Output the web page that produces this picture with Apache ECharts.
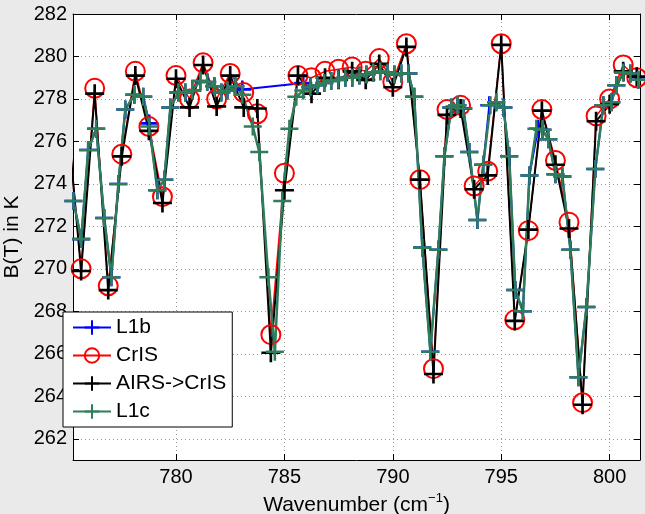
<!DOCTYPE html>
<html>
<head>
<meta charset="utf-8">
<script src="https://cdn.jsdelivr.net/npm/echarts@6/dist/echarts.min.js"></script>
<style>
  html, body { margin: 0; padding: 0; background: #eaeaea; }
  #chart { width: 645px; height: 514px; }
</style>
</head>
<body>
<div id="chart"></div>
<script>
// CrIS channel grid (0.625 cm-1) and the two CrIS-grid series
const crisWn = [775.0, 775.625, 776.25, 776.875, 777.5, 778.125, 778.75, 779.375, 780.0, 780.625,
    781.25, 781.875, 782.5, 783.125, 783.75, 784.375, 785.0, 785.625, 786.25, 786.875,
    787.5, 788.125, 788.75, 789.375, 790.0, 790.625, 791.25, 791.875, 792.5, 793.125,
    793.75, 794.375, 795.0, 795.625, 796.25, 796.875, 797.5, 798.125, 798.75, 799.375,
    800.0, 800.625, 801.25, 801.875];
const crisBT = [277.0, 270.0, 278.5, 269.2, 275.4, 279.3, 276.7, 273.4, 279.1, 278.0,
    279.7, 278.0, 279.2, 278.3, 277.3, 266.9, 274.5, 279.1, 279.0, 279.3,
    279.4, 279.5, 279.3, 279.9, 278.8, 280.6, 274.2, 265.3, 277.5, 277.7,
    273.9, 274.6, 280.6, 267.6, 271.8, 277.5, 275.1, 272.2, 263.7, 277.2,
    278.0, 279.6, 279.0, 278.8];
const airsToCrisBT = [277.0, 269.9, 278.25, 269.0, 275.3, 279.1, 276.5, 273.1, 278.95, 277.6,
    279.6, 277.65, 279.1, 277.6, 277.55, 266.05, 273.7, 279.1, 278.25, 279.0,
    278.9, 279.3, 278.9, 279.65, 278.55, 280.45, 274.2, 265.05, 277.25, 277.55,
    273.75, 274.4, 280.55, 267.55, 271.85, 277.45, 274.9, 271.9, 263.6, 276.95,
    277.75, 279.3, 279.05, 278.8];

// AIRS L1c channels
const l1cWn = [775.27, 775.63, 775.95, 776.32, 776.69, 777.02, 777.34, 777.66, 778.08, 778.49,
    778.77, 779.14, 779.46, 779.74, 780.11, 780.43, 780.75, 781.12, 781.44, 781.77,
    782.09, 782.37, 782.74, 783.06, 783.54, 783.84, 784.26, 784.56, 784.90, 785.23,
    785.55, 785.87, 786.20, 786.52, 786.84, 787.16, 787.49, 787.81, 788.13, 788.46,
    788.78, 789.10, 789.42, 789.75, 790.07, 790.39, 790.72, 790.99, 791.36, 791.73,
    792.10, 792.38, 792.70, 792.98, 793.25, 793.53, 793.90, 794.17, 794.50, 794.77,
    795.10, 795.37, 795.65, 796.00, 796.30, 796.62, 796.90, 797.17, 797.50, 797.82,
    798.19, 798.56, 798.93, 799.34, 799.71, 800.08, 800.31, 800.63, 800.96, 801.32,
    801.65];
const l1cBT = [273.2, 271.4, 275.6, 276.6, 272.4, 269.6, 274.0, 277.5, 278.2, 278.1,
    276.7, 273.7, 274.2, 277.6, 278.3, 278.3, 278.4, 278.85, 278.8, 278.6,
    278.3, 278.4, 278.6, 278.2, 276.7, 275.5, 269.6, 266.1, 273.2, 276.6,
    278.1, 278.4, 278.55, 278.65, 278.75, 278.85, 278.9, 279.0, 279.0, 279.1,
    279.15, 279.25, 279.3, 279.25, 279.15, 279.2, 279.2, 278.1, 271.0, 266.1,
    270.9, 275.3, 277.6, 277.7, 277.55, 275.5, 272.3, 274.9, 277.7, 277.85,
    277.6, 275.3, 269.0, 268.0, 274.4, 276.6, 276.55, 276.1, 274.45, 274.35,
    270.9, 264.9, 268.2, 274.7, 277.7, 277.85, 278.65, 279.25, 279.2, 278.9,
    278.9];

// AIRS L1b channels (gap of bad channels near 784 cm-1)
const l1bWn = [775.27, 775.63, 775.95, 776.32, 776.69, 777.02, 777.34, 777.66, 778.08, 778.49,
    778.77, 779.14, 779.46, 779.74, 780.11, 780.43, 780.75, 781.12, 781.44, 781.77,
    782.09, 782.37, 782.74, 783.06, 785.87, 786.20, 786.52, 786.84, 787.16, 787.49,
    787.81, 788.13, 788.46, 788.78, 789.10, 789.42, 789.75, 790.07, 790.39, 790.72,
    790.99, 791.36, 791.73, 792.10, 792.38, 792.70, 792.98, 793.25, 793.53, 793.90,
    794.17, 794.45, 794.77, 795.10, 795.37, 795.65, 796.00, 796.30, 796.70, 796.90,
    797.17, 797.50, 797.82, 798.19, 798.56, 798.93, 799.34, 799.71, 800.08, 800.31,
    800.63, 800.96, 801.32, 801.65];
const l1bBT = [273.2, 271.4, 275.6, 276.6, 272.4, 269.6, 274.0, 277.5, 278.2, 278.1,
    276.85, 273.7, 274.2, 277.6, 278.3, 278.3, 278.4, 278.85, 278.8, 278.6,
    278.3, 278.4, 278.6, 278.45, 278.75, 278.55, 278.65, 278.75, 278.85, 278.9,
    279.0, 279.0, 279.1, 279.15, 279.25, 279.3, 279.25, 279.15, 279.2, 279.2,
    278.1, 271.0, 266.1, 270.9, 275.3, 277.6, 277.7, 277.55, 275.5, 272.3,
    274.9, 277.7, 277.85, 277.6, 275.3, 269.0, 268.0, 274.4, 276.6, 276.55,
    276.1, 274.45, 274.35, 270.9, 264.9, 268.2, 274.7, 277.7, 277.85, 278.65,
    279.25, 279.2, 278.9, 278.9];

const FONT = '"Liberation Sans", Arial, Helvetica, sans-serif';
const PLUS = 'path://M0,4.3H4.3V0H5.7V4.3H10V5.7H5.7V10H4.3V5.7H0Z';

const pairs = (xs, ys) => xs.map((x, i) => [x, ys[i]]);

const X_RANGE = {min: 775.25, max: 801.4, splitNumber: 5};
const Y_RANGE = {min: 261, max: 282, splitNumber: 10};
const GRID_LINE = {show: true, lineStyle: {color: '#9a9a9a', width: 1, type: [1, 3]}};

function frameAxis(range, position) {
    return Object.assign({
        type: 'value',
        position: position,
        axisLine: {show: true, onZero: false, lineStyle: {color: '#000', width: 1}},
        axisTick: {show: true, inside: true, length: 6, lineStyle: {color: '#000'}},
        axisLabel: {show: false},
        splitLine: {show: false},
    }, range);
}

const chart = echarts.init(document.getElementById('chart'));
chart.setOption({
    animation: false,
    backgroundColor: '#eaeaea',
    textStyle: {fontFamily: FONT},
    grid: {
        left: 73, right: 5, top: 14, bottom: 54,
        outerBoundsMode: 'none', containLabel: false,
        show: true, backgroundColor: '#fff', borderWidth: 0,
    },
    legend: {
        orient: 'vertical',
        left: 63,
        top: 312,
        padding: [5, 6, 5, 9],
        itemGap: 7,
        itemWidth: 38,
        itemHeight: 18,
        backgroundColor: '#fff',
        borderColor: '#000',
        borderWidth: 1,
        textStyle: {fontSize: 21, color: '#000', fontFamily: FONT},
        data: ['L1b', 'CrIS', 'AIRS->CrIS', 'L1c'],
    },
    xAxis: [
        Object.assign(frameAxis(X_RANGE, 'bottom'), {
            axisLabel: {show: true, showMinLabel: false, showMaxLabel: false, color: '#000', fontSize: 20, margin: 7, fontFamily: FONT},
            splitLine: GRID_LINE,
            name: '{a|Wavenumber (cm}{s|−1}{a|)}',
            nameLocation: 'middle',
            nameGap: 25,
            nameTextStyle: {
                rich: {
                    a: {fontSize: 21, color: '#000', fontFamily: FONT, lineHeight: 24, verticalAlign: 'bottom'},
                    s: {fontSize: 13, color: '#000', fontFamily: FONT, lineHeight: 13, verticalAlign: 'top'},
                },
            },
        }),
        frameAxis(X_RANGE, 'top'),
    ],
    yAxis: [
        Object.assign(frameAxis(Y_RANGE, 'left'), {
            axisLabel: {show: true, showMinLabel: false, showMaxLabel: true, color: '#000', fontSize: 20, margin: 6, fontFamily: FONT},
            splitLine: GRID_LINE,
            name: 'B(T) in K',
            nameLocation: 'middle',
            nameGap: 50,
            nameTextStyle: {fontSize: 21, color: '#000', fontFamily: FONT},
        }),
        frameAxis(Y_RANGE, 'right'),
    ],
    series: [
        {
            name: 'L1b',
            type: 'line',
            data: pairs(l1bWn, l1bBT),
            symbol: PLUS,
            symbolSize: 18,
            showAllSymbol: true,
            itemStyle: {color: '#0000ff'},
            lineStyle: {color: '#0000ff', width: 2},
        },
        {
            name: 'CrIS',
            type: 'line',
            data: pairs(crisWn, crisBT),
            symbol: 'circle',
            symbolSize: 19,
            showAllSymbol: true,
            itemStyle: {color: 'rgba(255,255,255,0)', borderColor: '#ff0000', borderWidth: 2},
            lineStyle: {color: '#ff0000', width: 1.5},
        },
        {
            name: 'AIRS->CrIS',
            type: 'line',
            data: pairs(crisWn, airsToCrisBT),
            symbol: PLUS,
            symbolSize: 19,
            showAllSymbol: true,
            itemStyle: {color: '#000'},
            lineStyle: {color: '#000', width: 2},
        },
        {
            name: 'L1c',
            type: 'line',
            data: pairs(l1cWn, l1cBT),
            symbol: PLUS,
            symbolSize: 18,
            showAllSymbol: true,
            itemStyle: {color: '#2e7d5b'},
            lineStyle: {color: '#2e7d5b', width: 2.5},
        },
    ],
});
</script>
</body>
</html>
